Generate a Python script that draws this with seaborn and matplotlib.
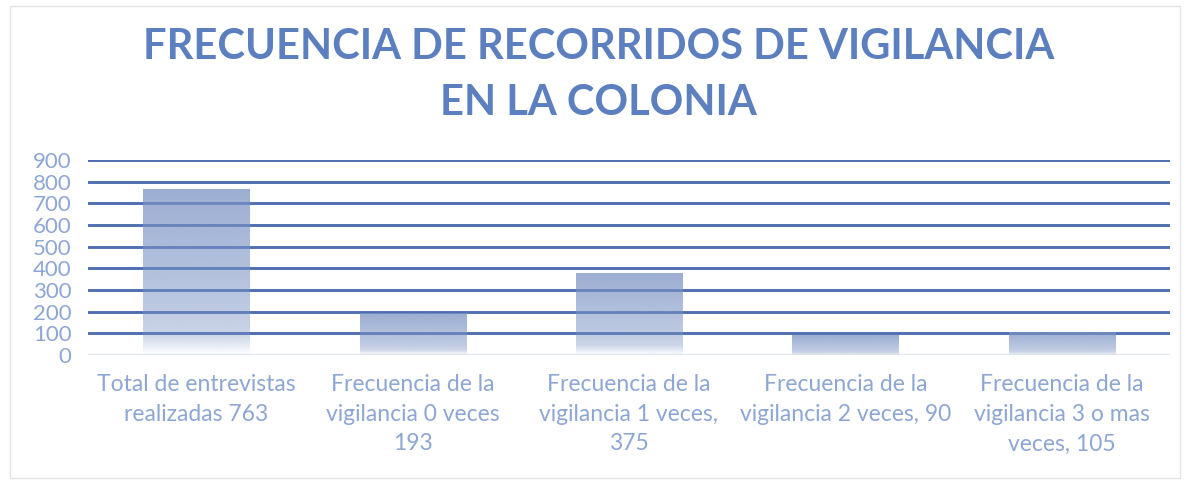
import numpy as np
import pandas as pd
import seaborn as sns
import matplotlib.pyplot as plt
from matplotlib.patches import Rectangle

# chart data
categories = [
    "Total de entrevistas\nrealizadas 763",
    "Frecuencia de la\nvigilancia 0 veces\n193",
    "Frecuencia de la\nvigilancia 1 veces,\n375",
    "Frecuencia de la\nvigilancia 2 veces, 90",
    "Frecuencia de la\nvigilancia 3 o mas\nveces, 105",
]
values = [763, 193, 375, 90, 105]
y_ticks = [0, 100, 200, 300, 400, 500, 600, 700, 800, 900]
title = "FRECUENCIA DE RECORRIDOS DE VIGILANCIA\nEN LA COLONIA"

title_color = "#5b7fbf"
label_color = "#8ea6d4"
grid_color = "#4f6fb0"
bar_rgb = np.array([120, 145, 195]) / 255.0

df = pd.DataFrame({"cat": categories, "val": values})

sns.set_style("white")
plt.rcParams["font.family"] = ["Lato", "DejaVu Sans"]

fig = plt.figure(figsize=(11.9, 4.84), dpi=100)
ax = fig.add_axes([0.074, 0.2665, 0.909, 0.4025])

sns.barplot(x="cat", y="val", data=df, ax=ax, width=0.49, color="#7891c3")

# gridlines
for t in y_ticks[1:]:
    ax.axhline(t, color=grid_color, lw=2.1, zorder=1)
ax.axhline(0, color="#dfe5f1", lw=1.5, zorder=1)

# replace flat bars with a vertical fade (top darker, bottom to white)
n = 256
tt = np.linspace(0, 1, n)  # 0 = bottom, 1 = top
alpha = np.interp(tt, [0.0, 0.12, 0.3, 0.6, 1.0], [0.0, 0.38, 0.5, 0.6, 0.74])
grad = np.zeros((n, 1, 4))
grad[:, 0, :3] = bar_rgb
grad[:, 0, 3] = alpha
for p in ax.patches:
    x, w, h = p.get_x(), p.get_width(), p.get_height()
    p.set_visible(False)
    ax.imshow(grad, extent=[x, x + w, 0, h], origin="lower", aspect="auto",
              zorder=2, interpolation="bilinear")

ax.set_xlim(-0.5, len(categories) - 0.5)
ax.set_ylim(0, 900)
ax.set_yticks(y_ticks)
ax.set_yticklabels([str(t) for t in y_ticks])
ax.tick_params(axis="y", length=0, pad=12, labelsize=16, labelcolor=label_color)
ax.tick_params(axis="x", length=0, pad=14, labelsize=16.5, labelcolor=label_color)
for lbl in ax.get_xticklabels():
    lbl.set_linespacing(1.5)
ax.set_xlabel("")
ax.set_ylabel("")
sns.despine(ax=ax, left=True, bottom=True)

fig.text(0.503, 0.845, title, ha="center", va="center", fontsize=30,
         fontweight="bold", color=title_color, linespacing=1.58)

fig.patches.append(Rectangle((0.008, 0.012), 0.984, 0.975, transform=fig.transFigure,
                             fill=False, edgecolor="#e4e4e4", lw=1))

fig.savefig("out.png", dpi=100)
plt.close(fig)
